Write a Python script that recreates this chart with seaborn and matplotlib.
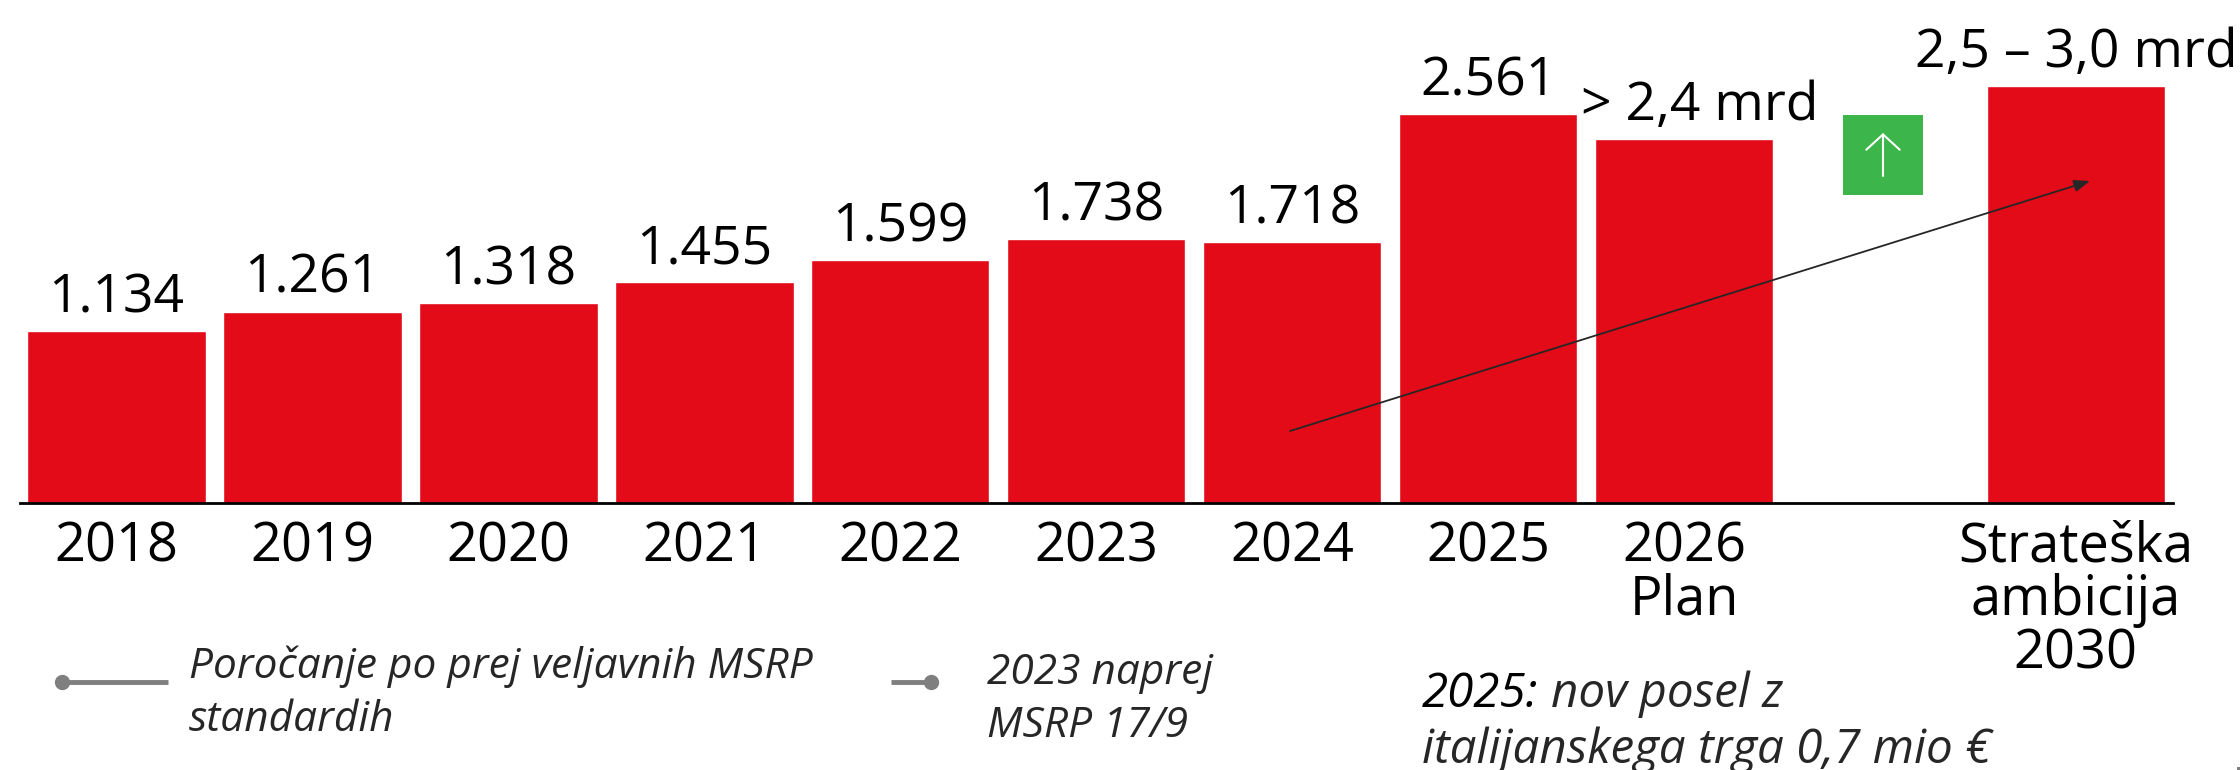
import pandas as pd
import matplotlib
matplotlib.use('Agg')
import matplotlib.pyplot as plt
import seaborn as sns

# chart values
categories = ['2018', '2019', '2020', '2021', '2022', '2023', '2024', '2025', '2026\nPlan', 'Strateška\nambicija\n2030']
values = [1134, 1261, 1318, 1455, 1599, 1738, 1718, 2561, 2400, 2750]
value_labels = ['1.134', '1.261', '1.318', '1.455', '1.599', '1.738', '1.718', '2.561', '> 2,4 mrd', '2,5 – 3,0 mrd']
# one empty slot before the 2030 bar
order = categories[:9] + [' '] + categories[9:]

RED = '#E30B17'
GREEN = '#3CB54A'
GREY = '#7F7F7F'
TEXT = '#262626'

sns.set_theme(style='white')
plt.rcParams['font.family'] = ['Open Sans', 'DejaVu Sans']

df = pd.DataFrame({'category': categories, 'value': values})

W, H = 2240, 770
BASE = 502.7
fig = plt.figure(figsize=(W / 100, H / 100), dpi=100, facecolor='white')
ax = fig.add_axes([20 / W, (H - BASE) / H, 2153 / W, BASE / H])

sns.barplot(data=df, x='category', y='value', order=order, color=RED, saturation=1, width=0.91, ax=ax)
ax.set_xlim(-0.493, 10.496)
ax.set_ylim(0, BASE / 0.1516)
ax.set_xlabel('')
ax.set_ylabel('')
ax.set_yticks([])
for s in ['top', 'left', 'right']:
    ax.spines[s].set_visible(False)
ax.spines['bottom'].set_color('black')
ax.spines['bottom'].set_linewidth(2)
ax.tick_params(axis='x', length=0, pad=12, labelsize=39, labelcolor='black')
for t in ax.get_xticklabels():
    t.set_linespacing(0.96)

labels = ax.bar_label(ax.containers[0], labels=value_labels, padding=4, fontsize=38.5, color='black')
# the plan label sits a bit to the right of its bar
labels[8].xyann = (11.5, labels[8].xyann[1])

# overlay in pixel coordinates for legend, notes and arrow
ov = fig.add_axes([0, 0, 1, 1], facecolor='none')
ov.set_xlim(0, W)
ov.set_ylim(H, 0)
ov.axis('off')

ov.plot([62, 168], [682, 682], color=GREY, lw=3.5, solid_capstyle='butt')
ov.plot([62], [682], 'o', color=GREY, ms=10)
ov.plot([891, 931], [682, 682], color=GREY, lw=3.5, solid_capstyle='butt')
ov.plot([931], [682], 'o', color=GREY, ms=10)

note = dict(fontsize=30.5, fontstyle='italic', color=TEXT, va='baseline')
ov.text(189, 678, 'Poročanje po prej veljavnih MSRP', **note)
ov.text(189, 731, 'standardih', **note)
ov.text(987, 684, '2023 naprej', **note)
ov.text(987, 737, 'MSRP 17/9', **note)
ov.text(1422, 707, '2025:', fontsize=34.2, fontstyle='italic', color='black', va='baseline')
ov.text(1551, 707, 'nov posel z', fontsize=34.2, fontstyle='italic', color=TEXT, va='baseline')
ov.text(1422, 763, 'italijanskega trga 0,7 mio €', fontsize=34.2, fontstyle='italic', color=TEXT, va='baseline')

# green box with white arrow
ov.add_patch(plt.Rectangle((1843, 115), 80, 80, color=GREEN, lw=0))
ov.annotate('', xy=(1883, 133), xytext=(1883, 176),
            arrowprops=dict(arrowstyle='->,head_width=1.2,head_length=1.1', mutation_scale=10,
                            color='white', lw=1.5, shrinkA=0, shrinkB=0))

# trend arrow
ov.annotate('', xy=(2090, 181), xytext=(1290, 431),
            arrowprops=dict(arrowstyle='-|>,head_width=0.3,head_length=0.8', color=TEXT, lw=1.3, shrinkA=0, shrinkB=0))

# stray speck in the bottom right corner
ov.add_patch(plt.Rectangle((2237, 767), 3, 3, color=GREY, lw=0))

fig.savefig('out.png', dpi=100)
